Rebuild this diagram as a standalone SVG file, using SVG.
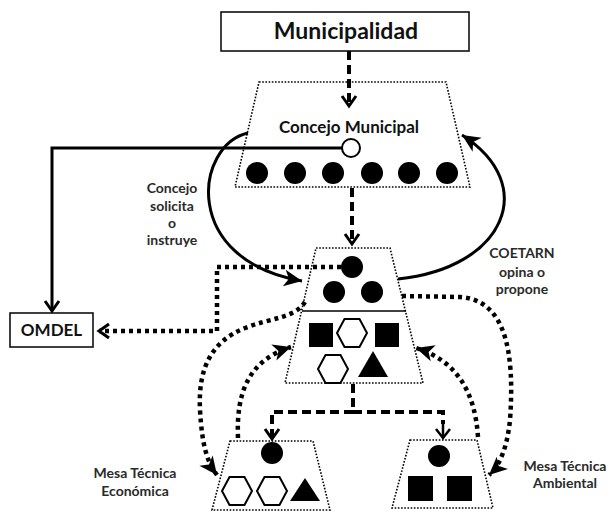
<svg xmlns="http://www.w3.org/2000/svg" xmlns:xlink="http://www.w3.org/1999/xlink" width="610" height="512" viewBox="0 0 610 512">
<style>
  .tz { fill: none; stroke: #000; stroke-width: 1.6; stroke-dasharray: 1.6 1.6; }
  .box { fill: #fff; stroke: #000; stroke-width: 1.5; }
  .title { font-family: Lato, "Open Sans", sans-serif; font-weight: bold; fill: #111; text-anchor: middle; }
  .lbl { font-family: Lato, "Open Sans", sans-serif; font-weight: bold; font-size: 14px; fill: #2a2a2a; text-anchor: middle; }
  .dash { fill: none; stroke: #000; stroke-width: 4; stroke-dasharray: 9 5; }
  .dot { fill: none; stroke: #000; stroke-width: 4.5; stroke-dasharray: 4 4; }
  .solid { fill: none; stroke: #000; stroke-width: 3; }
  .hex { fill: #fff; stroke: #000; stroke-width: 2; }
</style>
<defs>
  <marker id="openV" markerUnits="userSpaceOnUse" markerWidth="20" markerHeight="20" viewBox="-12 -10 14 20" refX="0" refY="0" orient="auto">
    <path d="M-10,-7 L0,0 L-10,7" fill="none" stroke="#000" stroke-width="3"/>
  </marker>
  <marker id="openVs" markerUnits="userSpaceOnUse" markerWidth="20" markerHeight="20" viewBox="-12 -10 14 20" refX="0" refY="0" orient="auto">
    <path d="M-9,-7 L0,0 L-9,7" fill="none" stroke="#000" stroke-width="2.5"/>
  </marker>
  <marker id="fill" markerUnits="userSpaceOnUse" markerWidth="24" markerHeight="24" viewBox="-16 -10 18 20" refX="0" refY="0" orient="auto">
    <path d="M0,0 L-15,-7 L-11,0 L-15,7 Z" fill="#000"/>
  </marker>
  <polygon id="hex" points="-15,0 -7.5,-14 7.5,-14 15,0 7.5,14 -7.5,14"/>
</defs>

<g id="connectors">
  <path class="dash" d="M349,51 L349,106" marker-end="url(#openV)"/>
  <path class="dash" d="M352,188 L352,244" marker-end="url(#openV)"/>
  <path class="solid" d="M342,148 L52,148 L52,311" marker-end="url(#openV)"/>
  <path class="dot" d="M341,267 L217,267 L217,331 L99,331" marker-end="url(#openV)"/>
  <path class="solid" d="M248,133 C195,145 180,260 302,281" marker-end="url(#fill)"/>
  <path class="solid" d="M398,279 C505,268 540,185 462,135" marker-end="url(#fill)"/>
  <path class="dash" d="M353,384 L353,412"/>
  <path class="dash" d="M353,412 L272,412 L272,439" marker-end="url(#openV)"/>
  <path class="dash" d="M353,412 L443,412 L443,424"/>
  <path d="M443,420 L443,438" fill="none" stroke="#000" stroke-width="2.5" marker-end="url(#openVs)"/>
  <path class="dot" d="M402,296 L460,297 C505,300 515,350 510,420 C507,448 500,465 489,475" marker-end="url(#fill)"/>
  <path class="dot" d="M478,437 C475,390 455,360 416,348" marker-end="url(#fill)"/>
  <path class="dot" d="M238,438 C236,390 250,360 291,347" marker-end="url(#fill)"/>
  <path class="dot" d="M305,302 C295,318 270,318 245,328 C210,342 198,370 200,410 C202,445 207,462 217,475" marker-end="url(#fill)"/>
</g>

<g id="municipalidad">
  <rect class="box" x="221" y="12" width="248" height="39"/>
  <text class="title" x="346" y="39" font-size="23">Municipalidad</text>
</g>

<g id="concejo">
  <polygon class="tz" points="259,82 446,82 470,187 235,187"/>
  <text class="title" x="349" y="133" font-size="17">Concejo Municipal</text>
  <circle cx="351" cy="148" r="9" fill="#fff" stroke="#000" stroke-width="2"/>
  <circle cx="257" cy="173" r="11"/>
  <circle cx="295" cy="173" r="11"/>
  <circle cx="333" cy="173" r="11"/>
  <circle cx="372" cy="173" r="11"/>
  <circle cx="409" cy="173" r="11"/>
  <circle cx="447" cy="173" r="11"/>
</g>

<g id="coetarn">
  <polygon class="tz" points="316,248 390,248 423,383 285,383"/>
  <line x1="302" y1="311" x2="406" y2="311" stroke="#000" stroke-width="1.5"/>
  <circle cx="352" cy="267" r="11"/>
  <circle cx="334" cy="292" r="11"/>
  <circle cx="372" cy="292" r="11"/>
  <rect x="309" y="323" width="24" height="24"/>
  <use xlink:href="#hex" class="hex" x="352" y="333"/>
  <rect x="375" y="323" width="24" height="24"/>
  <use xlink:href="#hex" class="hex" x="333" y="369"/>
  <polygon points="373,351 388,377 358,377"/>
</g>

<g id="omdel">
  <rect class="box" x="10" y="313" width="83" height="34"/>
  <text class="title" x="51.5" y="336" font-size="17">OMDEL</text>
</g>

<g id="mesa-economica">
  <polygon class="tz" points="230,441 313,441 330,510 212,510"/>
  <circle cx="272" cy="453" r="11"/>
  <use xlink:href="#hex" class="hex" x="237" y="491"/>
  <use xlink:href="#hex" class="hex" x="272" y="491"/>
  <polygon points="305,478 320,501 290,501"/>
</g>

<g id="mesa-ambiental">
  <polygon class="tz" points="410,440 477,440 493,508 392,508"/>
  <circle cx="439" cy="456" r="11"/>
  <rect x="408" y="476" width="25" height="25"/>
  <rect x="447" y="476" width="25" height="25"/>
</g>

<g id="labels">
  <text class="lbl" x="172" y="193">Concejo</text>
  <text class="lbl" x="172" y="211">solicita</text>
  <text class="lbl" x="172" y="228">o</text>
  <text class="lbl" x="172" y="245">instruye</text>
  <text class="lbl" x="522" y="258">COETARN</text>
  <text class="lbl" x="522" y="277">opina o</text>
  <text class="lbl" x="522" y="294">propone</text>
  <text class="lbl" x="135" y="478">Mesa Técnica</text>
  <text class="lbl" x="135" y="496">Económica</text>
  <text class="lbl" x="565" y="471">Mesa Técnica</text>
  <text class="lbl" x="565" y="488">Ambiental</text>
</g>
</svg>
